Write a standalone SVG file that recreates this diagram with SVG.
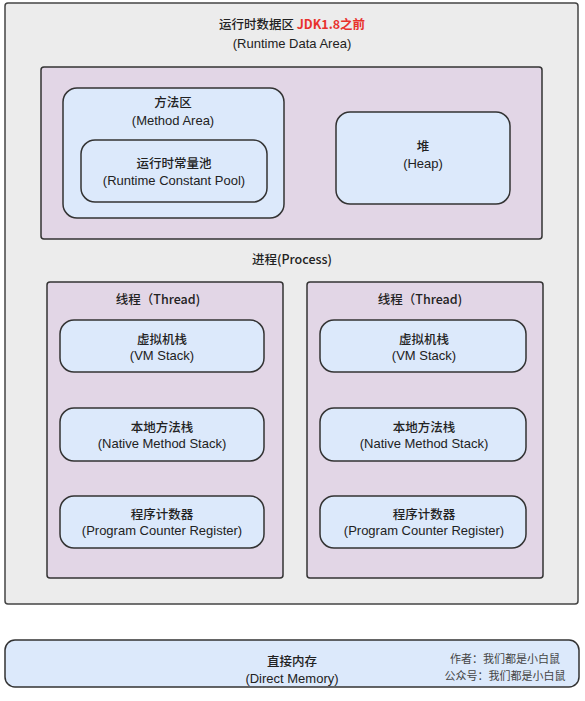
<svg xmlns="http://www.w3.org/2000/svg" width="585" height="701" viewBox="0 0 585 701">
<style>
.t{font-family:"Noto Sans CJK SC","Liberation Sans",sans-serif;font-size:12.5px;fill:#222;text-anchor:middle;font-weight:500}
.e{font-family:"Liberation Sans","Noto Sans CJK SC",sans-serif;font-size:13px;fill:#222;text-anchor:middle}
.blue{fill:#dce9fb;stroke:#333;stroke-width:1.5}
.purple{fill:#e2d6e6;stroke:#333;stroke-width:1.5}
.gray{fill:#ececec;stroke:#444;stroke-width:1.5}
.a{font-family:"Noto Sans CJK SC","Liberation Sans",sans-serif;font-size:11px;fill:#444;text-anchor:middle}
</style>
<rect width="585" height="701" fill="#ffffff"/>
<g id="runtime-data-area">
<rect class="gray" x="5" y="3" width="573" height="601" rx="3"/>
<text class="t" x="292" y="29">运行时数据区 <tspan fill="#e8322c" font-weight="bold">JDK1.8之前</tspan></text>
<text class="e" x="292" y="48">(Runtime Data Area)</text>
</g>
<g id="shared-area">
<rect class="purple" x="41" y="67" width="501" height="172" rx="3"/>
</g>
<g id="method-area">
<rect class="blue" x="63" y="88" width="221" height="130" rx="14"/>
<text class="t" x="173" y="107">方法区</text>
<text class="e" x="173" y="125">(Method Area)</text>
</g>
<g id="constant-pool">
<rect class="blue" x="81" y="140" width="186" height="62" rx="14"/>
<text class="t" x="174" y="168">运行时常量池</text>
<text class="e" x="174" y="185">(Runtime Constant Pool)</text>
</g>
<g id="heap">
<rect class="blue" x="336" y="112" width="174" height="92" rx="14"/>
<text class="t" x="423" y="151">堆</text>
<text class="e" x="423" y="168">(Heap)</text>
</g>
<g id="process">
<text class="t" x="292" y="264">进程(Process)</text>
</g>
<g id="thread-1">
<rect class="purple" x="47" y="282" width="236" height="296" rx="3"/>
<text class="t" x="158" y="304">线程（Thread)</text>
</g>
<g id="vm-stack-1">
<rect class="blue" x="60" y="320" width="204" height="52" rx="14"/>
<text class="t" x="162" y="344">虚拟机栈</text>
<text class="e" x="162" y="360">(VM Stack)</text>
</g>
<g id="native-stack-1">
<rect class="blue" x="60" y="408" width="204" height="53" rx="14"/>
<text class="t" x="162" y="432">本地方法栈</text>
<text class="e" x="162" y="448">(Native Method Stack)</text>
</g>
<g id="pc-1">
<rect class="blue" x="60" y="496" width="204" height="52" rx="14"/>
<text class="t" x="162" y="519">程序计数器</text>
<text class="e" x="162" y="535">(Program Counter Register)</text>
</g>
<g id="thread-2">
<rect class="purple" x="307" y="282" width="236" height="296" rx="3"/>
<text class="t" x="420" y="304">线程（Thread)</text>
</g>
<g id="vm-stack-2">
<rect class="blue" x="320" y="320" width="206" height="52" rx="14"/>
<text class="t" x="424" y="344">虚拟机栈</text>
<text class="e" x="424" y="360">(VM Stack)</text>
</g>
<g id="native-stack-2">
<rect class="blue" x="320" y="408" width="206" height="53" rx="14"/>
<text class="t" x="424" y="432">本地方法栈</text>
<text class="e" x="424" y="448">(Native Method Stack)</text>
</g>
<g id="pc-2">
<rect class="blue" x="320" y="496" width="206" height="52" rx="14"/>
<text class="t" x="424" y="519">程序计数器</text>
<text class="e" x="424" y="535">(Program Counter Register)</text>
</g>
<g id="direct-memory">
<rect class="blue" x="5" y="640" width="574" height="47" rx="10"/>
<text class="t" x="292" y="666">直接内存</text>
<text class="e" x="292" y="683">(Direct Memory)</text>
<text class="a" x="505" y="663">作者：我们都是小白鼠</text>
<text class="a" x="505" y="680">公众号：我们都是小白鼠</text>
</g>
<g id="connectors"></g>
</svg>
